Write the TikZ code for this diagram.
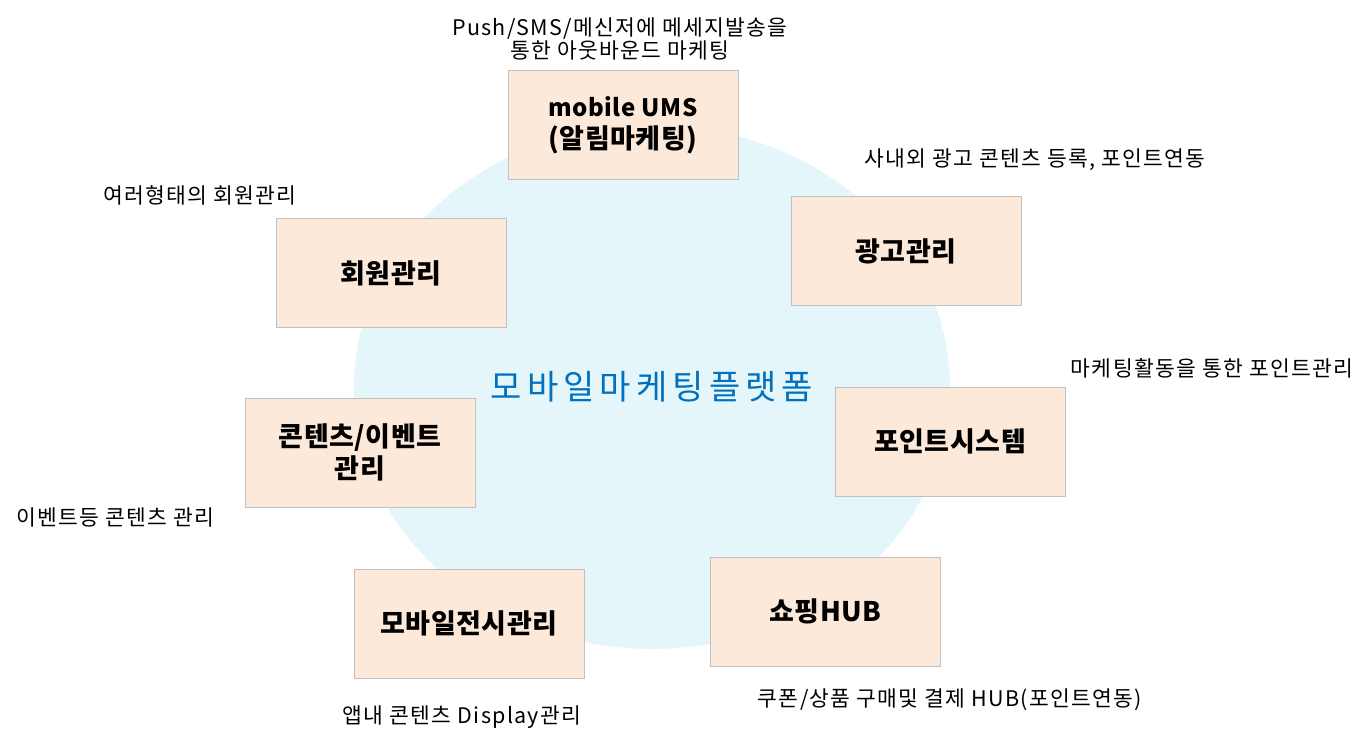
\documentclass[tikz,border=0pt]{standalone}
\usepackage{fontspec}
\setmainfont{Noto Sans CJK KR}
\usetikzlibrary{shapes.geometric}

\definecolor{boxfill}{HTML}{FDE9D9}
\definecolor{boxline}{HTML}{C0C0C0}
\definecolor{platfill}{HTML}{E5F6FB}
\definecolor{plattext}{HTML}{0070C0}

\begin{document}
\begin{tikzpicture}[x=1pt,y=-1pt,
    hub/.style={ellipse,fill=platfill,minimum width=596pt,minimum height=524pt,inner sep=0pt,
      text=plattext,font=\fontsize{34}{40}\selectfont\addfontfeature{LetterSpace=15}},
    module/.style={draw=boxline,line width=1pt,fill=boxfill,minimum width=230pt,minimum height=109pt,
      align=center,font=\fontsize{27}{32}\selectfont\bfseries\addfontfeature{LetterSpace=2}},
    note/.style={align=center,inner sep=0pt,font=\fontsize{21.5}{22.5}\selectfont\addfontfeature{LetterSpace=6}}]
    % page size
    \useasboundingbox (0,0) rectangle (1366,735);
    % platform in the middle
    \node[hub] (platform) at (652,387) {모바일마케팅플랫폼};
    % modules round the platform
    \node[module] (ums) at (623,125) {{\fontsize{24}{32}\selectfont mobile UMS}\\(알림마케팅)};
    \node[module] (member) at (391,273.5) {회원관리};
    \node[module] (ad) at (906,251) {광고관리};
    \node[module] (content) at (360,452.5) {콘텐츠/이벤트\\관리};
    \node[module] (point) at (950,441.5) {포인트시스템};
    \node[module] (display) at (469,623.5) {모바일전시관리};
    \node[module] (shop) at (825.5,611.5) {쇼핑HUB};
    % notes beside the modules
    \node[note] (umsnote) at (620,39) {Push/SMS/메신저에 메세지발송을\\통한 아웃바운드 마케팅};
    \node[note] (adnote) at (1035,160) {사내외 광고 콘텐츠 등록, 포인트연동};
    \node[note] (membernote) at (200,195) {여러형태의 회원관리};
    \node[note] (pointnote) at (1212,368) {마케팅활동을 통한 포인트관리};
    \node[note] (contentnote) at (115,517) {이벤트등 콘텐츠 관리};
    \node[note] (displaynote) at (462,717) {앱내 콘텐츠 Display관리};
    \node[note] (shopnote) at (950,700) {쿠폰/상품 구매및 결제 HUB(포인트연동)};
\end{tikzpicture}
\end{document}
